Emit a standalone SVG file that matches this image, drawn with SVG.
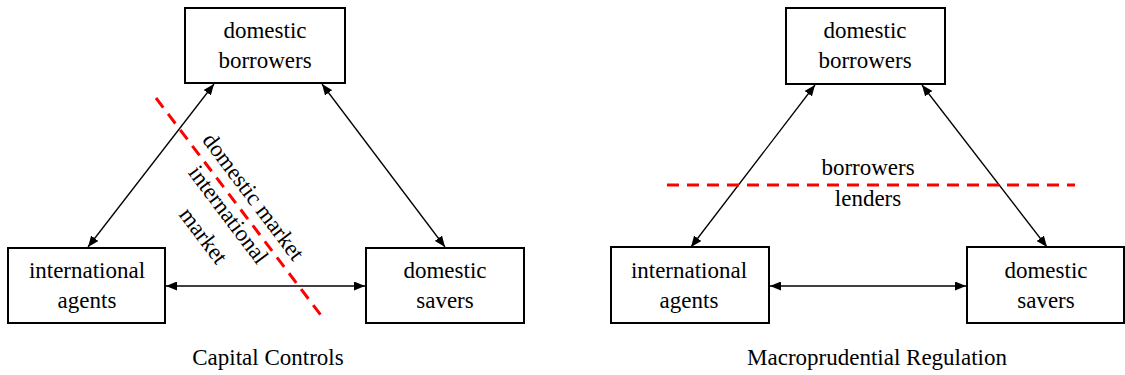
<svg xmlns="http://www.w3.org/2000/svg" width="1125" height="375" viewBox="0 0 1125 375">
<style>
.box{fill:#fff;stroke:#000;stroke-width:2}
.t{font-family:"Liberation Serif","Times New Roman",serif;font-size:23px;fill:#000;text-anchor:middle}
.conn{stroke:#000;stroke-width:1.3;fill:none;marker-start:url(#ah);marker-end:url(#ah)}
.red{stroke:#ff0000;stroke-width:3;stroke-dasharray:12 8;fill:none}
</style>
<defs>
<marker id="ah" viewBox="0 0 10 10" refX="10" refY="5" markerWidth="11" markerHeight="9" markerUnits="userSpaceOnUse" orient="auto-start-reverse" preserveAspectRatio="none">
<path d="M0,0 L10,5 L0,10 z" fill="#000"/>
</marker>
</defs>
<rect width="1125" height="375" fill="#fff"/>
<g id="connectors">
<line class="conn" x1="88" y1="247" x2="214" y2="84"/>
<line class="conn" x1="322" y1="84" x2="445" y2="247"/>
<line class="conn" x1="166" y1="286" x2="365" y2="286"/>
<line class="conn" x1="691" y1="247" x2="815" y2="85"/>
<line class="conn" x1="922" y1="85" x2="1047" y2="247"/>
<line class="conn" x1="770" y1="286" x2="966" y2="286"/>
</g>
<g id="left-divider">
<line class="red" x1="156" y1="98" x2="323" y2="318"/>
<g transform="translate(253,197) rotate(53)"><text class="t" x="0" y="7">domestic market</text></g>
<g transform="translate(228,215) rotate(53)"><text class="t" x="0" y="7">international</text></g>
<g transform="translate(203,236) rotate(53)"><text class="t" x="0" y="7">market</text></g>
</g>
<g id="right-divider">
<line class="red" x1="667" y1="185" x2="1075" y2="185"/>
<text class="t" x="868" y="175">borrowers</text>
<text class="t" x="868" y="206">lenders</text>
</g>
<g id="L-borrowers">
<rect class="box" x="185" y="8" width="160" height="75"/>
<text class="t" x="265" y="38">domestic</text>
<text class="t" x="265" y="68">borrowers</text>
</g>
<g id="L-international">
<rect class="box" x="8" y="248" width="157" height="75"/>
<text class="t" x="87" y="278">international</text>
<text class="t" x="87" y="308">agents</text>
</g>
<g id="L-savers">
<rect class="box" x="366" y="248" width="158" height="75"/>
<text class="t" x="445" y="278">domestic</text>
<text class="t" x="445" y="308">savers</text>
</g>
<g id="R-borrowers">
<rect class="box" x="786" y="8" width="159" height="76"/>
<text class="t" x="865" y="38">domestic</text>
<text class="t" x="865" y="68">borrowers</text>
</g>
<g id="R-international">
<rect class="box" x="611" y="247" width="158" height="76"/>
<text class="t" x="689" y="278">international</text>
<text class="t" x="689" y="308">agents</text>
</g>
<g id="R-savers">
<rect class="box" x="967" y="247" width="157" height="76"/>
<text class="t" x="1046" y="278">domestic</text>
<text class="t" x="1046" y="308">savers</text>
</g>
<text class="t" x="268" y="365">Capital Controls</text>
<text class="t" x="877" y="365">Macroprudential Regulation</text>
</svg>
